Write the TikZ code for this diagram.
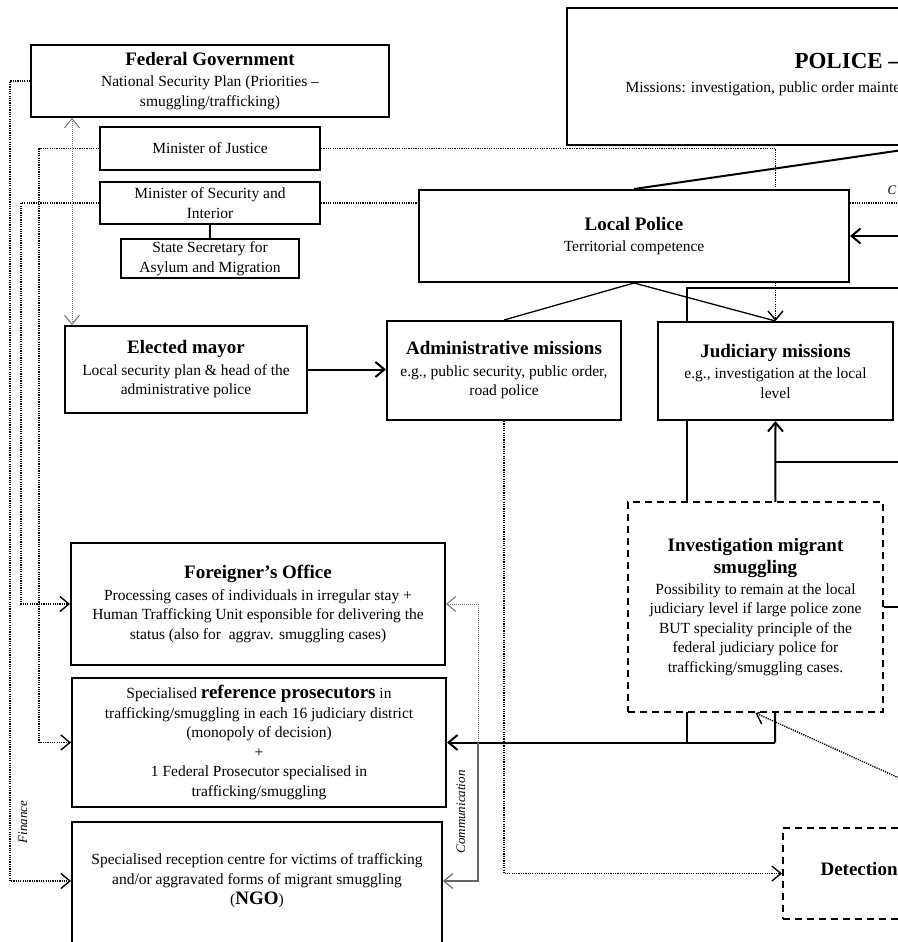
\documentclass[tikz,border=0pt]{standalone}
\usepackage{fontspec}
\setmainfont{Liberation Serif}
\usetikzlibrary{arrows.meta}
\pgfdeclarelayer{bg}
\pgfsetlayers{bg,main}
\newcommand{\ttl}{\fontsize{19}{22}\selectfont\bfseries}
\newcommand{\bdy}{\fontsize{15.5}{19.5}\selectfont}
\begin{document}
\begin{tikzpicture}[x=1pt,y=-1pt,
  >={Straight Barb[length=9pt,width=15pt]},
  box/.style={draw, line width=2pt, fill=white, align=center, inner sep=0pt, font=\bdy},
  dbox/.style={box, dash pattern=on 7pt off 5pt},
  main/.style={line width=2pt},
  thinl/.style={line width=1.3pt},
  dotl/.style={line width=1.4pt, dash pattern=on 1.2pt off 1.1pt},
  gdot/.style={line width=1pt, black!55, dash pattern=on 1pt off 1pt},
  gsol/.style={line width=1.1pt, black!60},
  lbl/.style={font=\fontsize{13}{15}\selectfont\itshape, rotate=90}
]
\useasboundingbox (0,0) rectangle (897,942);

% ---- nodes
\node[box, minimum width=358pt, minimum height=72pt] (fed) at (210,81)
  {{\ttl Federal Government}\\[2pt]National Security Plan (Priorities –\\smuggling/trafficking)};
\node[box, minimum width=220pt, minimum height=43pt] (just) at (210,148.5) {Minister of Justice};
\node[box, minimum width=220pt, minimum height=42pt] (secint) at (210,203) {Minister of Security and\\Interior};
\node[box, minimum width=178pt, minimum height=39pt] (state) at (210,258.5) {State Secretary for\\Asylum and Migration};

\node[box, minimum width=700pt, minimum height=137pt, anchor=north west] (police) at (566,7) {};
\node[anchor=mid west, font=\fontsize{23}{26}\selectfont\bfseries] (policet) at (791,66) {POLICE –};
\node[anchor=mid west, font=\bdy] (polices) at (622,90) {Missions: investigation, public order maintenance};

\node[box, minimum width=430pt, minimum height=92pt] (lp) at (634,236) {{\ttl Local Police}\\[2pt]Territorial competence};
\node[box, minimum width=242pt, minimum height=87pt] (mayor) at (186,369.5)
  {{\ttl Elected mayor}\\[2pt]Local security plan \& head of the\\administrative police};
\node[box, minimum width=234pt, minimum height=99pt] (admin) at (504,370.5)
  {{\ttl Administrative missions}\\[2pt]e.g., public security, public order,\\road police};
\node[box, minimum width=235pt, minimum height=98pt] (jud) at (775.5,371)
  {{\ttl Judiciary missions}\\[2pt]e.g., investigation at the local\\level};
\node[dbox, minimum width=255pt, minimum height=210pt] (inv) at (755.5,607)
  {{\ttl Investigation migrant}\\[3pt]{\ttl smuggling}\\[1pt]Possibility to remain at the local\\judiciary level if large police zone\\BUT speciality principle of the\\federal judiciary police for\\trafficking/smuggling cases.};
\node[box, minimum width=374pt, minimum height=122pt] (foreign) at (258,604)
  {{\ttl Foreigner’s Office}\\[2pt]Processing cases of individuals in irregular stay +\\Human Trafficking Unit esponsible for delivering the\\status (also for\ \ aggrav. smuggling cases)};
\node[box, minimum width=374pt, minimum height=129pt] (pros) at (259,742.5)
  {Specialised {\ttl reference prosecutors} in\\trafficking/smuggling in each 16 judiciary district\\(monopoly of decision)\\+\\1 Federal Prosecutor specialised in\\trafficking/smuggling};
\node[box, minimum width=370pt, minimum height=140pt, anchor=north] (ngo) at (257,821) {};
\node[align=center, font=\bdy, inner sep=0pt] (ngot) at (257,881)
  {Specialised reception centre for victims of trafficking\\and/or aggravated forms of migrant smuggling\\[1pt]({\ttl NGO})};
\node[dbox, minimum width=300pt, minimum height=91pt, anchor=north west] (det) at (782,827) {};
\node[anchor=mid west, font=\ttl] (dett) at (817,873) {Detection};

% ---- free ends and bends
\coordinate (pA) at (944,144);
\coordinate (rLP) at (930,203);
\coordinate (rLParr) at (930,236);
\coordinate (r288) at (930,288);
\coordinate (k1) at (687,288);
\coordinate (r462) at (930,462);
\coordinate (k2) at (775,462);
\coordinate (k3) at (775,742.5);
\coordinate (rInv) at (930,607);
\coordinate (rDot) at (930,792);
\coordinate (c1) at (478,742.5);
\coordinate (gx) at (72,0);

\node[font=\fontsize{13}{15}\selectfont\itshape, anchor=mid west] (clab) at (884,192) {C};
\node[lbl] (finl) at (23,822) {Finance};
\node[lbl] (coml) at (461,812) {Communication};

% ---- connectors
\begin{pgfonlayer}{bg}
\draw[dotl,->] (fed.west) -- ++(-20,0) |- (ngo.west |- ngot.center);
\draw[dotl,->] (just.west) -- ++(-60,0) |- (pros.west);
\draw[dotl,->] (secint.west) -- ++(-78,0) |- (foreign.west);
\draw[gdot,<->] (fed.south -| gx) -- (mayor.north -| gx);
\draw[main] (secint.south) -- (state.north);
\draw[dotl,->] (just.east) -| (jud.north);
\draw[dotl] (secint.east) -- (secint.east -| lp.west);
\draw[dotl] (lp.east |- secint.east) -- (rLP);
\draw[main,->] (rLParr) -- (lp.east);
\draw[main] (lp.north) -- (pA);
\draw[thinl] (lp.south) -- (admin.north);
\draw[thinl] (lp.south) -- (jud.north);
\draw[main,->] (mayor.east) -- (mayor.east -| admin.west);
\draw[dotl,->] (admin.south) |- (det.west);
\draw[main,->] (r288) -- (k1) |- (pros.east);
\draw[main,->] (k3) -- (jud.south);
\draw[main] (k3) -- (k3 -| k1);
\draw[main] (r462) -- (k2);
\draw[main] (inv.east) -- (rInv);
\draw[dotl,->] (rDot) -- (inv.south);
\draw[gdot,->] (c1) |- (foreign.east);
\draw[gsol,->] (c1) |- (ngo.east |- ngot.center);
\end{pgfonlayer}
\end{tikzpicture}
\end{document}
